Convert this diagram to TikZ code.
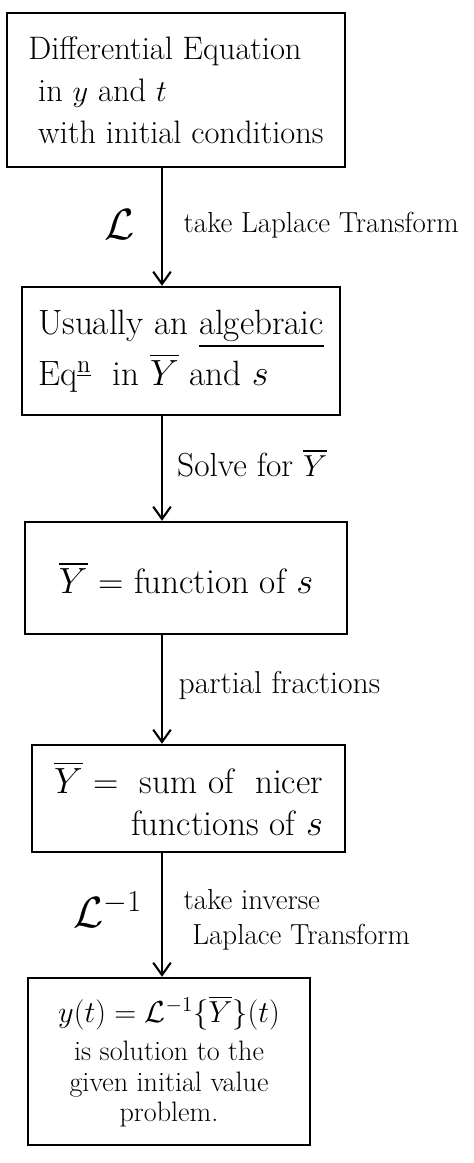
\documentclass[tikz,border=0pt]{standalone}
\usetikzlibrary{positioning, calc, arrows.meta}
\usepackage{amsmath, amssymb}

\newcommand{\Ybar}{\overline{Y}}

\begin{document}
\begin{tikzpicture}[
    stepbox/.style   = {rectangle, draw=black, line width=1.4pt,
                        font=\fontsize{20}{24}\selectfont, inner sep=4pt},
    firstbox/.style  = {stepbox, align=left},
    lastbox/.style   = {stepbox, align=center, font=\fontsize{16}{17.5}\selectfont},
    conn/.style      = {line width=1.4pt, draw=black,
                        -{Straight Barb[length=7pt, width=10pt, line width=1.2pt]}},
    steplbl/.style   = {font=\fontsize{16.5}{20}\selectfont, align=left, anchor=west},
    oplbl/.style     = {font=\fontsize{26}{28}\selectfont},
]

\useasboundingbox (0,0) rectangle (9.48,-23.26);

%% ============================================================
%% COORDINATES
%% ============================================================
\def\xArr{3.24}
\def\xLbl{3.55}

\coordinate (spine) at (\xArr, 0);

%% ============================================================
%% BOXES
%% ============================================================
\node[firstbox, font=\fontsize{18.5}{24}\selectfont,
      minimum width=6.76cm, minimum height=3.08cm] (deq) at (3.52, -1.80)
    {Differential Equation\\
     \ in $y$ and $t$\\
     \ with initial conditions};
\node[firstbox, minimum width=6.36cm, minimum height=2.56cm] (alg) at (3.62, -7.02)
    {Usually an \underline{algebraic}\\[2pt]
     Eq$^{\underline{\text{n}}}$ \ in $\Ybar$ and $s$};
\node[stepbox, minimum width=6.44cm, minimum height=2.24cm] (fun) at (3.72, -11.56)
    {$\Ybar$ = function of $s$};
\node[stepbox, align=right, minimum width=6.26cm, minimum height=2.14cm] (sum) at (3.77, -15.97)
    {$\Ybar$ = \ sum of \ nicer\\
     functions of $s$};
\node[lastbox, minimum width=5.64cm, minimum height=3.34cm] (sol) at (3.38, -21.23)
    {\fontsize{18}{20}\selectfont$y(t) = \mathcal{L}^{-1}\{\Ybar\}(t)$\\[4pt]
     is solution to the\\
     given initial value\\
     problem.};

%% ============================================================
%% CONNECTIONS
%% ============================================================
\draw[conn] (deq.south -| spine) -- (alg.north -| spine);
\draw[conn] (alg.south -| spine) -- (fun.north -| spine);
\draw[conn] (fun.south -| spine) -- (sum.north -| spine);
\draw[conn] (sum.south -| spine) -- (sol.north -| spine);

%% ============================================================
%% LABELS
%% ============================================================
\node[oplbl] (lap) at (2.40, -4.50) {$\mathcal{L}$};
\node[steplbl] (lapt) at (\xLbl, -4.50) {take Laplace Transform};
\node[steplbl, font=\fontsize{19}{22}\selectfont] (solve) at (3.42, -9.26) {Solve for $\Ybar$};
\node[steplbl, font=\fontsize{18}{22}\selectfont] (pf) at (3.45, -13.70) {partial fractions};
\node[oplbl] (ilap) at (2.16, -18.20) {$\mathcal{L}^{-1}$};
\node[steplbl] (ilapt) at (\xLbl, -18.40) {take inverse\\\ Laplace Transform};

\end{tikzpicture}
\end{document}
